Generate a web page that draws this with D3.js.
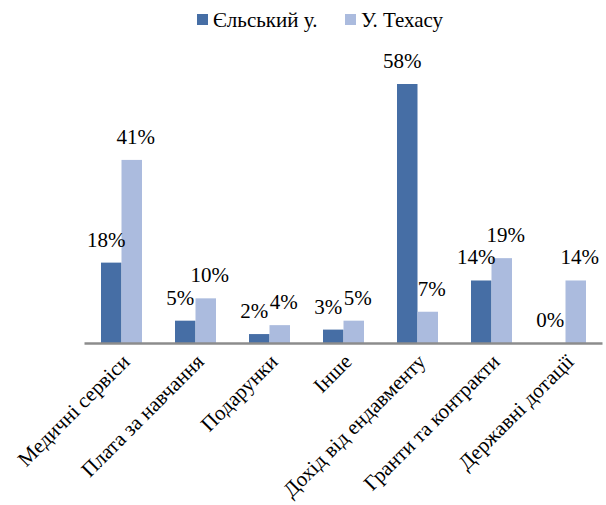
<!DOCTYPE html>
<html>
<head>
<meta charset="utf-8">
<script src="https://cdn.jsdelivr.net/npm/d3@7"></script>
</head>
<body style="margin:0">
<svg id="plot" width="606" height="505"></svg>
<script>
const categories = ['Медичні сервіси', 'Плата за навчання', 'Подарунки', 'Інше',
  'Дохід від ендавменту', 'Гранти та контракти', 'Державні дотації'];
const seriesNames = ['Єльський у.', 'У. Техасу'];
const yaleValues = [18, 5, 2, 3, 58, 14, 0];
const texasValues = [41, 10, 4, 5, 7, 19, 14];

const colors = ['#466ea5', '#abbbde'];
const baseY = 343;
const fontSize = 21;
const font = '"Liberation Serif", "Times New Roman", serif';

const svg = d3.select('#plot');

const data = categories.map((c, i) => ({
  name: c,
  values: [yaleValues[i], texasValues[i]]
}));

const xScale = d3.scaleBand()
  .domain(categories)
  .range([84, 602]);

const inner = d3.scaleBand()
  .domain(seriesNames)
  .range([17, xScale.bandwidth() - 16]);

const yScale = d3.scaleLinear()
  .domain([0, 58])
  .range([baseY, 84]);

const groups = svg.selectAll('g.cat')
  .data(data)
  .enter()
  .append('g')
  .attr('class', 'cat')
  .attr('transform', d => `translate(${xScale(d.name)}, 0)`);

groups.selectAll('rect')
  .data(d => d.values.map((v, i) => ({series: seriesNames[i], value: v, i: i})))
  .enter()
  .append('rect')
  .attr('x', d => inner(d.series))
  .attr('y', d => yScale(d.value))
  .attr('width', inner.bandwidth())
  .attr('height', d => baseY - yScale(d.value))
  .attr('fill', d => colors[d.i]);

// labels: dark ones nudged left, light ones right, like the original
const labelShift = [-5, 4];
groups.selectAll('text.val')
  .data(d => d.values.map((v, i) => ({series: seriesNames[i], value: v, i: i})))
  .enter()
  .append('text')
  .attr('class', 'val')
  .attr('x', d => inner(d.series) + inner.bandwidth() / 2 + labelShift[d.i])
  .attr('y', d => yScale(d.value) - 16)
  .attr('text-anchor', 'middle')
  .attr('font-size', fontSize)
  .attr('fill', '#000')
  .text(d => d.value + '%');

// x axis line and rotated category names
const xAxis = d3.axisBottom(xScale).tickSize(0).tickPadding(0);
const axisG = svg.append('g')
  .attr('transform', `translate(0, ${baseY})`)
  .call(xAxis)
  .attr('font-size', fontSize);
axisG.select('.domain')
  .attr('stroke', '#8c8c8c')
  .attr('stroke-width', 2.5);
axisG.selectAll('.tick text')
  .attr('fill', '#000')
  .attr('text-anchor', 'end')
  .attr('dy', 0)
  .attr('transform', 'translate(10, 20) rotate(-45)');

// legend
const legend = svg.append('g')
  .attr('transform', 'translate(197, 14)');
const legendX = [0, 148];
seriesNames.forEach((name, i) => {
  legend.append('rect')
    .attr('x', legendX[i])
    .attr('y', 0)
    .attr('width', 11)
    .attr('height', 11)
    .attr('fill', colors[i]);
  legend.append('text')
    .attr('x', legendX[i] + 16)
    .attr('y', 13)
    .attr('font-size', fontSize)
    .attr('fill', '#000')
    .text(name);
});

svg.selectAll('text').style('font-family', font, 'important');
</script>
</body>
</html>
